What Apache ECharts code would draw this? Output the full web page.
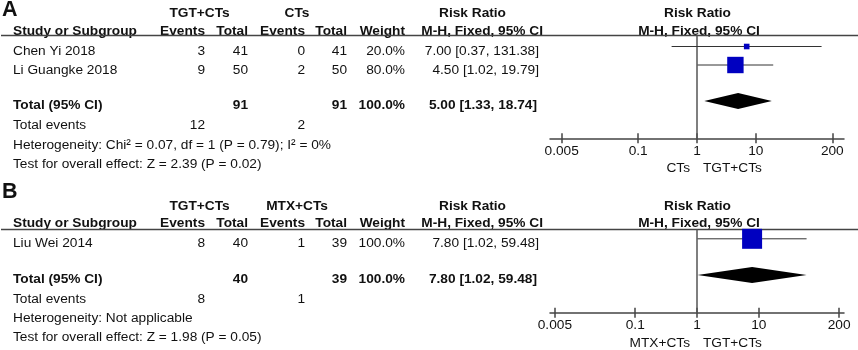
<!DOCTYPE html>
<html>
<head>
<meta charset="utf-8">
<script src="https://cdn.jsdelivr.net/npm/echarts@6.0.0/dist/echarts.min.js"></script>
<style>
html, body { margin: 0; padding: 0; background: #fff; }
#chart { width: 858px; height: 350px; }
</style>
</head>
<body>
<div id="chart"></div>
<script>
// ---- panel A : TGT+CTs vs CTs
var groupsA = ['TGT+CTs', 'CTs'];
var studiesA = ['Chen Yi 2018', 'Li Guangke 2018'];
var expEventsA = [3, 9];
var expTotalA = [41, 50];
var ctlEventsA = [0, 2];
var ctlTotalA = [41, 50];
var weightA = [20.0, 80.0];
var rrA = [7.00, 4.50];
var lowA = [0.37, 1.02];
var highA = [131.38, 19.79];
var pooledA = [5.00, 1.33, 18.74]; // estimate, lower, upper
var sumTotalA = [91, 91];
var sumEventsA = [12, 2];
var hetA = 'Heterogeneity: Chi² = 0.07, df = 1 (P = 0.79); I² = 0%';
var overallA = 'Test for overall effect: Z = 2.39 (P = 0.02)';

// ---- panel B : TGT+CTs vs MTX+CTs
var groupsB = ['TGT+CTs', 'MTX+CTs'];
var studiesB = ['Liu Wei 2014'];
var expEventsB = [8];
var expTotalB = [40];
var ctlEventsB = [1];
var ctlTotalB = [39];
var weightB = [100.0];
var rrB = [7.80];
var lowB = [1.02];
var highB = [59.48];
var pooledB = [7.80, 1.02, 59.48];
var sumTotalB = [40, 39];
var sumEventsB = [8, 1];
var hetB = 'Heterogeneity: Not applicable';
var overallB = 'Test for overall effect: Z = 1.98 (P = 0.05)';

// log axis ticks
var tickValues = [0.005, 0.1, 1, 10, 200];
var tickLabels = ['0.005', '0.1', '1', '10', '200'];

var FONT = '"Liberation Sans", Arial, Helvetica, sans-serif';
var FS = 13.7;
var TXT = '#111';
var LINE = '#444';
var BLUE = '#0000c0';

function txt(s, x, y, align, bold, size) {
    var f = (bold ? 'bold ' : '') + (size || FS) + 'px ' + FONT;
    return {
        type: 'text', x: x, y: y, silent: true,
        style: {
            text: String(s), x: 0, y: 0, fill: TXT, font: f,
            align: align || 'left', verticalAlign: 'middle',
            textAlign: align || 'left', textVerticalAlign: 'middle'
        }
    };
}
function ci(r, l, h) {
    return r.toFixed(2) + ' [' + l.toFixed(2) + ', ' + h.toFixed(2) + ']';
}

// column right edges: events, total, events, total, weight, risk ratio
var colX = [205, 248, 305, 347, 405, 539];

var panels = [
    {
        letter: 'A', groups: groupsA, studies: studiesA, ee: expEventsA, et: expTotalA,
        ce: ctlEventsA, ct: ctlTotalA, w: weightA, rr: rrA, lo: lowA, hi: highA,
        pooled: pooledA, sumTotal: sumTotalA, sumEvents: sumEventsA, het: hetA, overall: overallA,
        letterY: 10, grpY: 13, hdrY: 31.5, lineY: 35.5, rowY: 51.7, pitch: 18.5,
        totalY: 105, eventsY: 125, hetY: 145, testY: 164, favY: 168.3,
        axisY: 138.3, xmin: -2.5, xmax: 2.5, markOff: 0.595
    },
    {
        letter: 'B', groups: groupsB, studies: studiesB, ee: expEventsB, et: expTotalB,
        ce: ctlEventsB, ct: ctlTotalB, w: weightB, rr: rrB, lo: lowB, hi: highB,
        pooled: pooledB, sumTotal: sumTotalB, sumEvents: sumEventsB, het: hetB, overall: overallB,
        letterY: 192, grpY: 206.7, hdrY: 223.5, lineY: 229.5, rowY: 243.3, pitch: 18.5,
        totalY: 279, eventsY: 299, hetY: 318, testY: 337, favY: 343.3,
        axisY: 312.7, xmin: -2.38, xmax: 2.38, markOff: 0.503
    }
];

var graphics = [];
var grids = [], xAxes = [], yAxes = [], series = [];
var tickLog = tickValues.map(function (v) { return Math.log10(v); });

function tickFmt(v) {
    for (var i = 0; i < tickLog.length; i++) {
        if (Math.abs(tickLog[i] - v) < 1e-6) return tickLabels[i];
    }
    return '';
}

panels.forEach(function (p, pi) {
    // table text
    graphics.push(txt(p.letter, 2, p.letterY, 'left', true, 21.5));
    graphics.push(txt(p.groups[0], 199.5, p.grpY, 'center', true));
    graphics.push(txt(p.groups[1], 297, p.grpY, 'center', true));
    graphics.push(txt('Risk Ratio', 472.5, p.grpY, 'center', true));
    graphics.push(txt('Risk Ratio', 697.5, p.grpY, 'center', true));
    graphics.push(txt('Study or Subgroup', 13, p.hdrY, 'left', true));
    ['Events', 'Total', 'Events', 'Total', 'Weight'].forEach(function (h, i) {
        graphics.push(txt(h, colX[i], p.hdrY, 'right', true));
    });
    graphics.push(txt('M-H, Fixed, 95% CI', 543, p.hdrY, 'right', true));
    graphics.push(txt('M-H, Fixed, 95% CI', 699, p.hdrY, 'center', true));
    graphics.push({
        type: 'line', silent: true,
        shape: { x1: 1, y1: p.lineY, x2: 858, y2: p.lineY },
        style: { stroke: LINE, lineWidth: 1.5 }
    });
    p.studies.forEach(function (s, i) {
        var y = p.rowY + i * p.pitch;
        graphics.push(txt(s, 13, y));
        graphics.push(txt(p.ee[i], colX[0], y, 'right'));
        graphics.push(txt(p.et[i], colX[1], y, 'right'));
        graphics.push(txt(p.ce[i], colX[2], y, 'right'));
        graphics.push(txt(p.ct[i], colX[3], y, 'right'));
        graphics.push(txt(p.w[i].toFixed(1) + '%', colX[4], y, 'right'));
        graphics.push(txt(ci(p.rr[i], p.lo[i], p.hi[i]), colX[5], y, 'right'));
    });
    graphics.push(txt('Total (95% CI)', 13, p.totalY, 'left', true));
    graphics.push(txt(p.sumTotal[0], colX[1], p.totalY, 'right', true));
    graphics.push(txt(p.sumTotal[1], colX[3], p.totalY, 'right', true));
    graphics.push(txt('100.0%', colX[4], p.totalY, 'right', true));
    graphics.push(txt(ci(p.pooled[0], p.pooled[1], p.pooled[2]), colX[5] - 2, p.totalY, 'right', true));
    graphics.push(txt('Total events', 13, p.eventsY));
    graphics.push(txt(p.sumEvents[0], colX[0], p.eventsY, 'right'));
    graphics.push(txt(p.sumEvents[1], colX[2], p.eventsY, 'right'));
    graphics.push(txt(p.het, 13, p.hetY));
    graphics.push(txt(p.overall, 13, p.testY));
    // favours labels
    graphics.push(txt(p.groups[1], 690, p.favY, 'right'));
    graphics.push(txt(p.groups[0], 703, p.favY, 'left'));

    // forest plot
    var yMax = (p.axisY - p.lineY) / p.pitch;
    grids.push({ left: 550, right: 14, top: p.lineY, height: p.axisY - p.lineY });
    xAxes.push({
        gridIndex: pi, type: 'value', min: p.xmin, max: p.xmax, position: 'bottom',
        axisLine: { show: true, onZero: false, lineStyle: { color: LINE, width: 1.5 } },
        axisTick: { show: true, customValues: tickLog, length: 5, lineStyle: { color: LINE, width: 1.5 } },
        axisLabel: { show: true, customValues: tickLog, margin: 6, color: TXT, fontSize: FS, fontFamily: FONT, formatter: tickFmt },
        splitLine: { show: false }
    });
    xAxes.push({
        gridIndex: pi, type: 'value', min: p.xmin, max: p.xmax, position: 'bottom',
        axisLine: { show: false, onZero: false },
        axisTick: { show: true, inside: true, customValues: tickLog, length: 5, lineStyle: { color: LINE, width: 1.5 } },
        axisLabel: { show: false },
        splitLine: { show: false }
    });
    yAxes.push({ gridIndex: pi, type: 'value', min: 0, max: yMax, inverse: true, show: false });

    // line of no effect
    series.push({
        type: 'line', xAxisIndex: pi * 2, yAxisIndex: pi, z: 1, silent: true,
        symbol: 'none', lineStyle: { color: '#555', width: 1.5 },
        data: [[0, 0], [0, yMax]]
    });
    // studies: whisker + square
    series.push({
        type: 'custom', xAxisIndex: pi * 2, yAxisIndex: pi, z: 2, silent: true,
        encode: { x: [0, 1, 2], y: 3 },
        data: p.rr.map(function (r, i) {
            return [Math.log10(p.lo[i]), Math.log10(r), Math.log10(p.hi[i]), i + p.markOff, 2 + 0.18 * p.w[i]];
        }),
        renderItem: function (params, api) {
            var y = api.value(3);
            var a = api.coord([api.value(0), y]);
            var m = api.coord([api.value(1), y]);
            var b = api.coord([api.value(2), y]);
            var s = api.value(4);
            return {
                type: 'group', children: [
                    { type: 'line', shape: { x1: a[0], y1: a[1], x2: b[0], y2: b[1] }, style: { stroke: '#333', lineWidth: 1 } },
                    { type: 'rect', shape: { x: m[0] - s / 2, y: m[1] - s / 2, width: s, height: s }, style: { fill: BLUE } }
                ]
            };
        }
    });
    // pooled diamond
    series.push({
        type: 'custom', xAxisIndex: pi * 2, yAxisIndex: pi, z: 2, silent: true,
        encode: { x: [0, 1, 2], y: 3 },
        data: [[Math.log10(p.pooled[1]), Math.log10(p.pooled[0]), Math.log10(p.pooled[2]), p.studies.length + p.markOff + 0.95]],
        renderItem: function (params, api) {
            var y = api.value(3);
            var a = api.coord([api.value(0), y]);
            var m = api.coord([api.value(1), y]);
            var b = api.coord([api.value(2), y]);
            var h = 8;
            return {
                type: 'polygon',
                shape: { points: [[a[0], a[1]], [m[0], m[1] - h], [b[0], b[1]], [m[0], m[1] + h]] },
                style: { fill: '#000' }
            };
        }
    });
});

var chart = echarts.init(document.getElementById('chart'), null, { renderer: 'canvas' });
chart.setOption({
    animation: false,
    backgroundColor: '#fff',
    grid: grids,
    xAxis: xAxes,
    yAxis: yAxes,
    series: series,
    graphic: { elements: graphics }
});
</script>
</body>
</html>
